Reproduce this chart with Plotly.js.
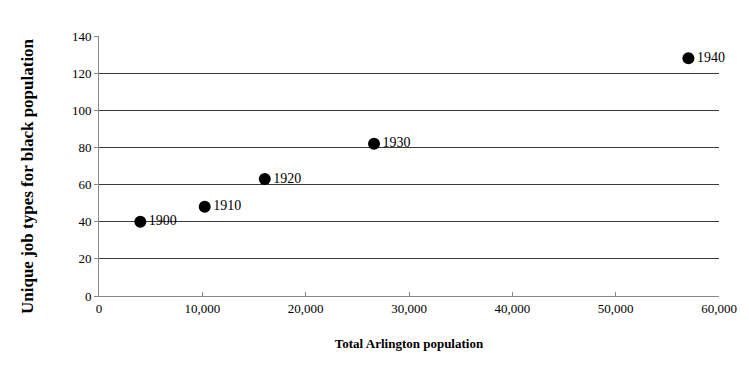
<!DOCTYPE html>
<html><head><meta charset="utf-8">
<script src="https://cdn.plot.ly/plotly-3.0.1.min.js"></script>
<style>html,body{margin:0;padding:0;background:#fff;}#chart{width:749px;height:370px;}</style>
</head><body><div id="chart"></div>
<script>
const years = ["1900", "1910", "1920", "1930", "1940"];
const population = [4000, 10231, 16040, 26615, 57040];
const jobTypes = [40, 48, 63, 82, 128];
const xTitle = 'Total Arlington population';
const yTitle = 'Unique job types for black population';

const trace = {
  x: population, y: jobTypes, text: years,
  type: 'scatter', mode: 'markers+text',
  textposition: 'middle right',
  textfont: {family: 'Liberation Serif', size: 14, color: '#000'},
  marker: {color: '#000', size: 12},
  cliponaxis: false, hoverinfo: 'none'
};
const layout = {
  width: 749, height: 370,
  margin: {l: 99, r: 30, t: 36, b: 74},
  paper_bgcolor: '#fff', plot_bgcolor: '#fff',
  showlegend: false,
  font: {family: 'Liberation Serif', color: '#000', size: 13},
  xaxis: {
    range: [0, 60000], tick0: 0, dtick: 10000, tickformat: ',d',
    showgrid: false, zeroline: false,
    showline: true, linecolor: '#888', linewidth: 1,
    ticks: 'inside', ticklen: 4, tickcolor: '#888',
    tickfont: {family: 'Liberation Serif', size: 13, color: '#000'},
    title: {text: '<b>' + xTitle + '</b>', font: {family: 'Liberation Serif', size: 13, color: '#000'}, standoff: 24}
  },
  yaxis: {
    range: [0, 140], dtick: 20,
    showgrid: true, gridcolor: '#3a3a3a', gridwidth: 1,
    zeroline: false,
    showline: true, linecolor: '#888', linewidth: 1,
    ticks: 'outside', ticklen: 4, tickcolor: '#888',
    tickfont: {family: 'Liberation Serif', size: 13, color: '#000'}
  },
  annotations: [{
    text: '<b>' + yTitle + '</b>', textangle: -90, showarrow: false,
    xref: 'paper', yref: 'paper', x: (27 - 99) / 620, y: (296 - 176) / 260,
    xanchor: 'center', yanchor: 'middle',
    font: {family: 'Liberation Serif', size: 17, color: '#000'}
  }]
};
Plotly.newPlot('chart', [trace], layout, {displayModeBar: false, staticPlot: true});
</script></body></html>
